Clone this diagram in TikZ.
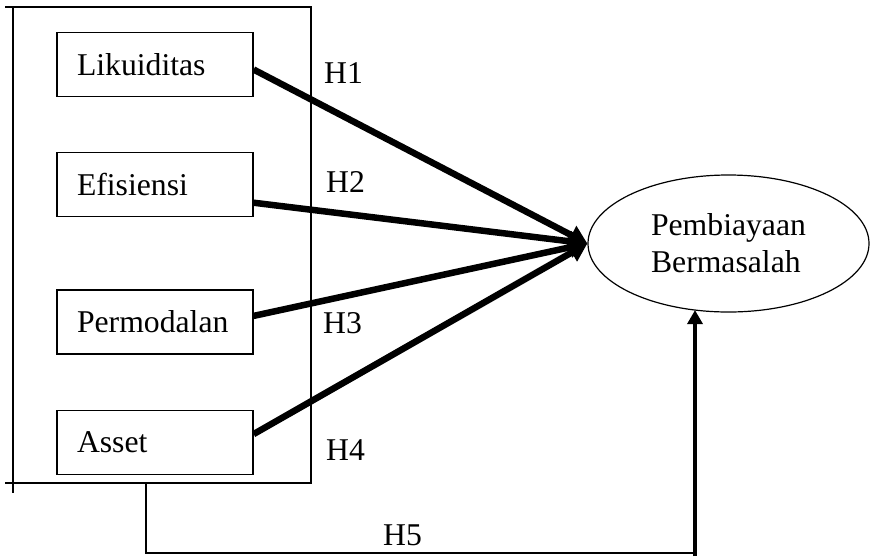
\documentclass[tikz,border=0pt]{standalone}
\usepackage{fontspec}
\setmainfont{Liberation Serif}
\usepackage{tikz}
\usetikzlibrary{shapes,arrows.meta,positioning}
\tikzset{
 varbox/.style={draw, line width=1.2pt, minimum height=64pt, text width=156pt, inner xsep=20pt, align=left},
 outcome/.style={ellipse, draw, line width=1.2pt, minimum width=281pt, minimum height=137pt, inner sep=0pt, align=left},
 hyp/.style={line width=6.5pt, -{Triangle[length=18pt,width=20pt]}},
 hlabel/.style={anchor=base west, inner sep=0pt},
 frame/.style={line width=1.3pt}
}

\begin{document}
\begin{tikzpicture}[x=1pt, y=-1pt, font=\fontsize{31.7}{37}\selectfont]
\useasboundingbox (0,0) rectangle (875,558);
% nodes
 \node[varbox] (lik) at (155,64.5) {Likuiditas};%
 \node[varbox, below=55pt of lik] (efi) {Efisiensi};%
 \node[varbox, below=72pt of efi] (perm) {Permodalan};%
 \node[varbox, below=55pt of perm] (asset) {Asset};%
 \node[outcome] (pb) at (728.5,243.5) {Pembiayaan\\Bermasalah};
% frame
 \draw[frame] (5,7) -- (311,7) -- (311,483) -- (5,483);
 \draw[frame] (13,7) -- (13,493);
 \coordinate (h5start) at (146,483);
 \coordinate (h5turn) at (695,553);
% edges
 \draw[hyp] ([yshift=-5pt]lik.east) -- (pb.west);
 \draw[hyp] ([yshift=-18pt]efi.east) -- (pb.west);
 \draw[hyp] ([yshift=6pt]perm.east) -- (pb.west);
 \draw[hyp] ([yshift=8pt]asset.east) -- (pb.west);
 \draw[line width=1.4pt] (h5start) |- (h5turn);
 \draw[line width=4pt, -{Triangle[length=14pt,width=15pt]}] ([yshift=-3pt]h5turn) -- ([yshift=2.5pt]h5turn |- pb.south);
% labels
 \node[hlabel] (h1) at (324,83) {H1};
 \node[hlabel] (h2) at (326,192) {H2};
 \node[hlabel] (h3) at (323,333) {H3};
 \node[hlabel] (h4) at (326,460) {H4};
 \node[hlabel] (h5) at (383,545) {H5};
\end{tikzpicture}
\end{document}
